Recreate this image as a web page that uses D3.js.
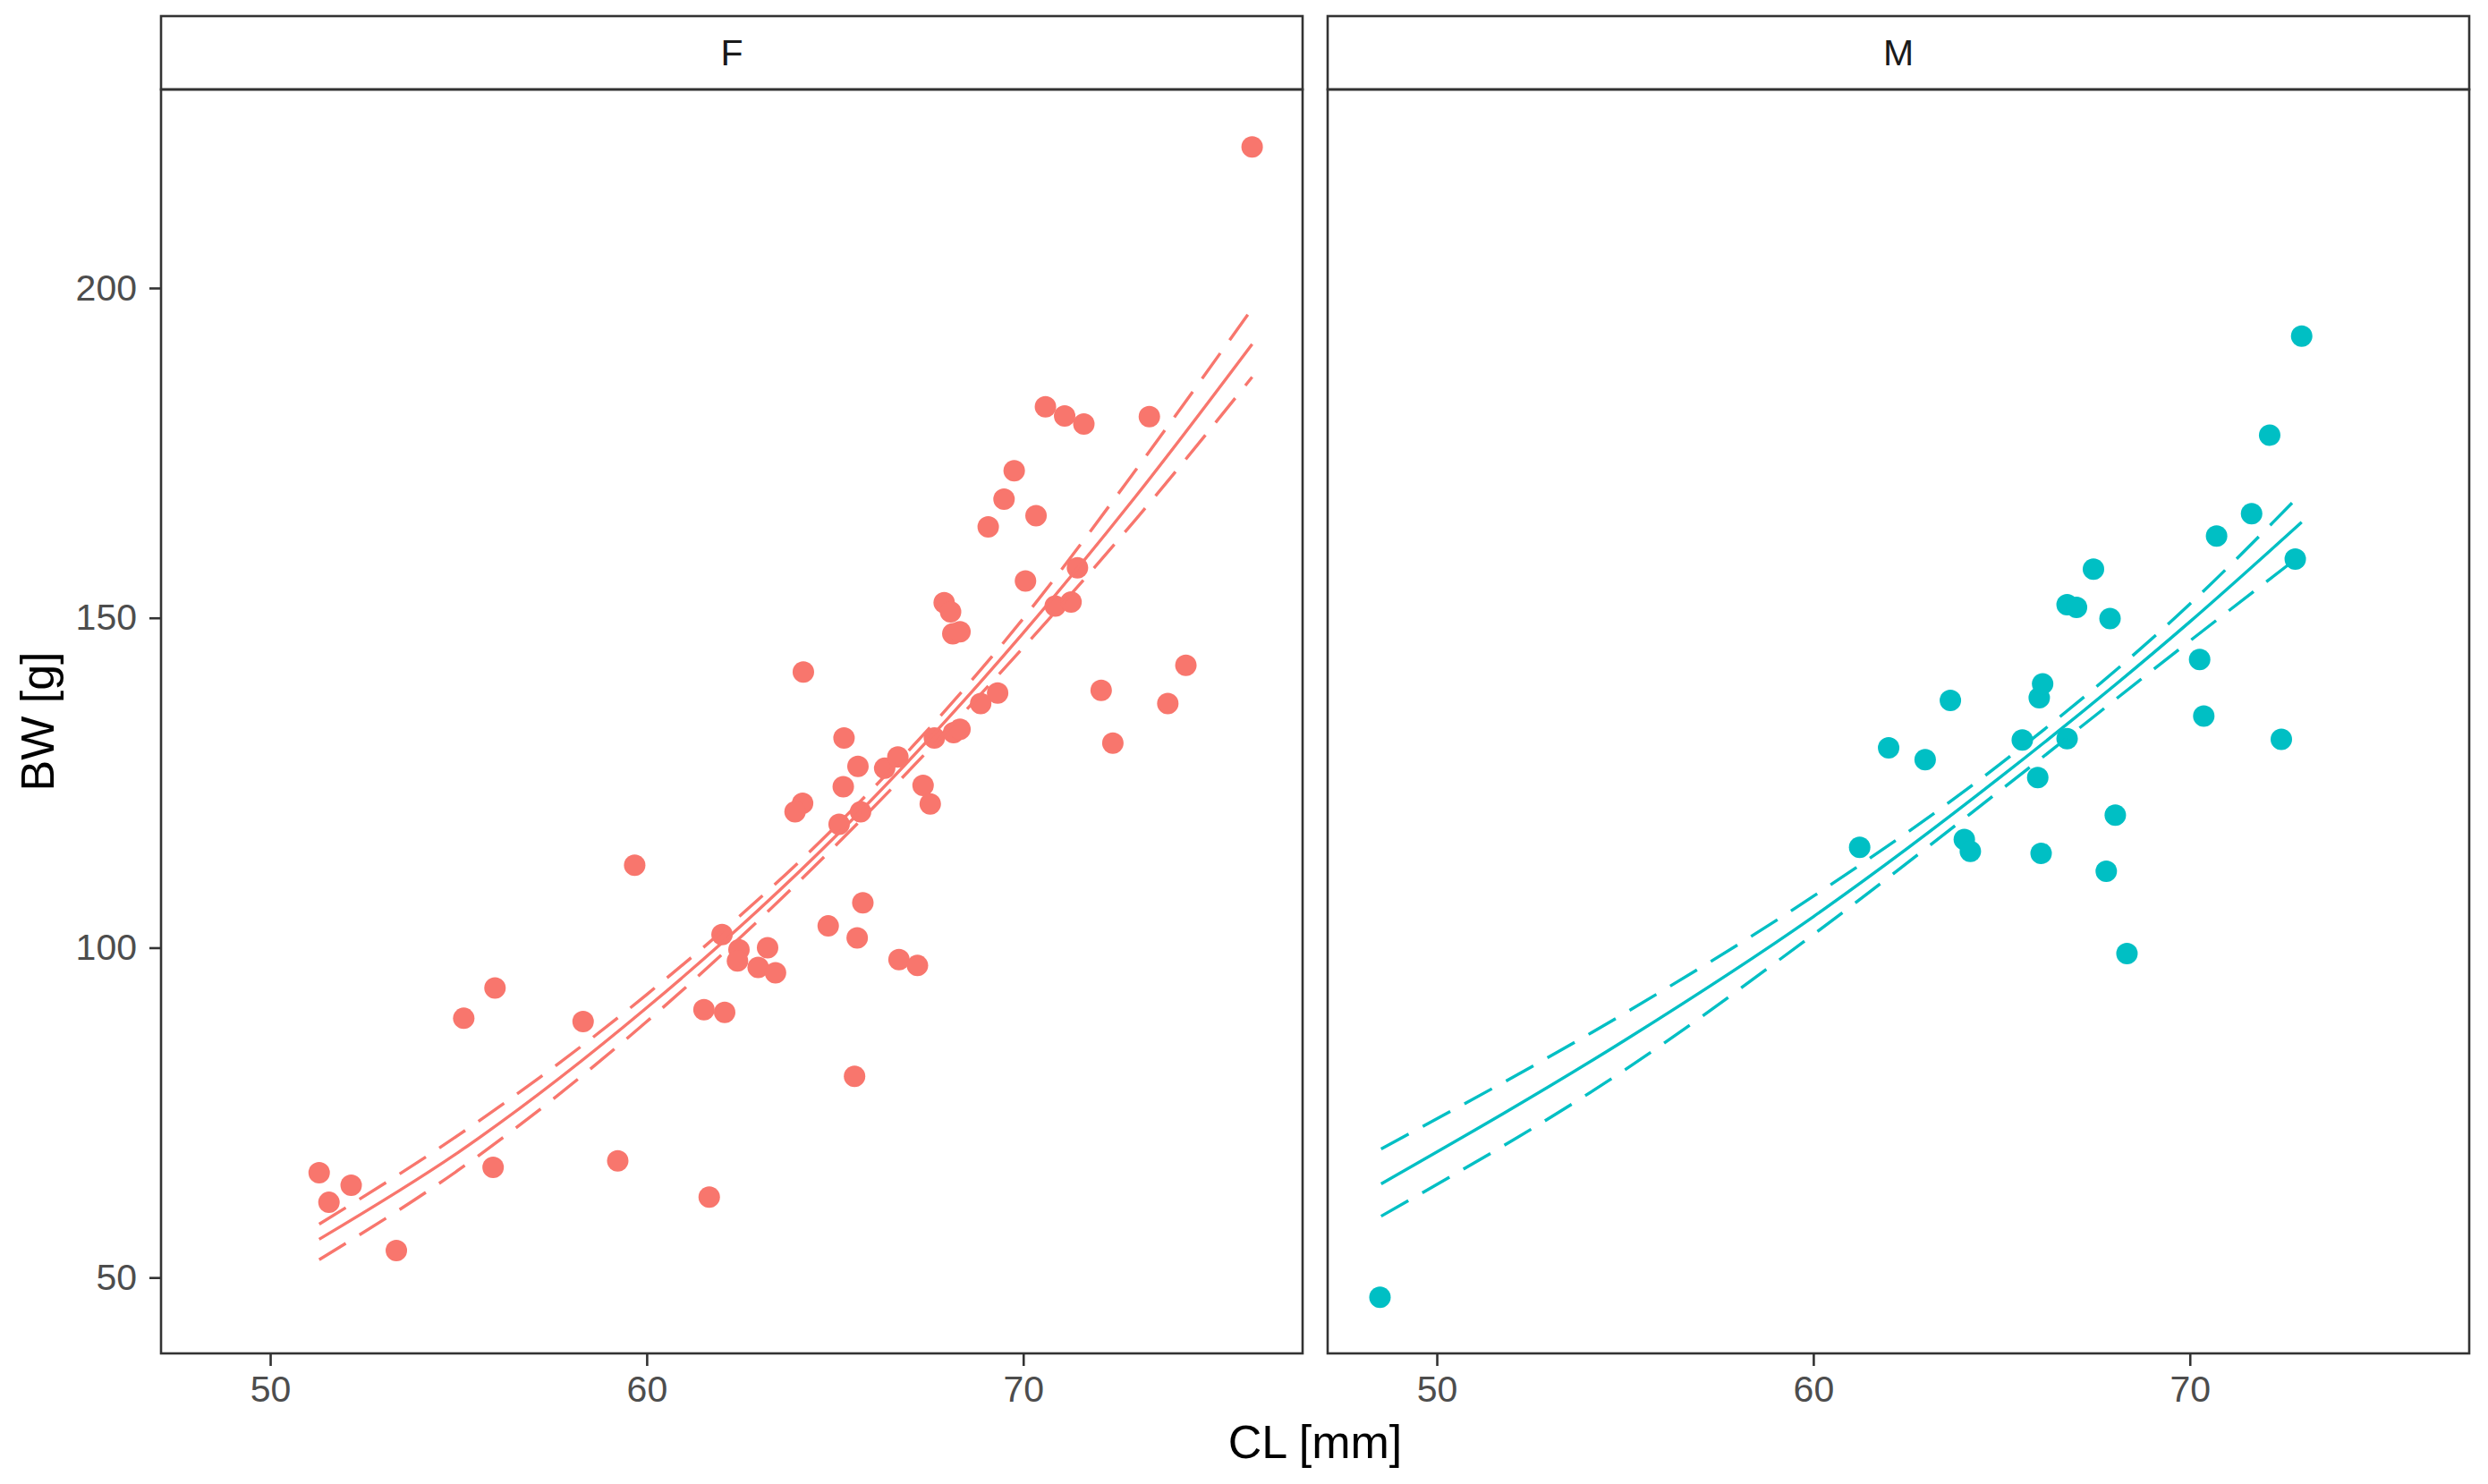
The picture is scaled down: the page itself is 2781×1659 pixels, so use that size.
<!DOCTYPE html>
<html>
<head>
<meta charset="utf-8">
<script src="https://cdn.jsdelivr.net/npm/d3@7/dist/d3.min.js"></script>
<style>
body { margin: 0; background: #ffffff; }
text { font-family: "Liberation Sans", Arial, Helvetica, sans-serif; }
</style>
</head>
<body>
<div id="chart"></div>
<script>
// facets and axis ticks
var panels = ["F", "M"];
var xTicks = [50, 60, 70];
var yTicks = [50, 100, 150, 200];

// observed points, females
var clF = [51.30, 51.56, 52.15, 53.35, 55.14, 55.97, 55.92, 58.31, 59.68, 59.23,
	61.66, 61.52, 62.07, 62.00, 62.45, 62.41, 63.21, 62.96, 63.42, 65.52,
	64.82, 65.59, 65.74, 64.16, 69.07, 69.49, 70.34, 70.06, 67.90, 68.07,
	68.13, 68.32, 71.44, 70.85, 71.27, 74.32, 72.07, 73.84, 72.38, 69.32,
	68.87, 67.64, 68.15, 68.32, 65.24, 65.61, 65.22, 66.32, 66.67, 64.14,
	63.94, 65.68, 65.11, 67.34, 67.53, 66.70, 67.19, 76.08, 70.59, 71.10,
	71.61, 73.35, 69.76];
var bwF = [65.9, 61.4, 64.0, 54.1, 89.3, 93.9, 66.7, 88.8, 112.5, 67.7,
	62.2, 90.6, 90.2, 102.0, 99.7, 98.0, 100.0, 97.0, 96.2, 80.5,
	103.3, 101.5, 106.8, 141.8, 163.8, 168.0, 165.5, 155.6, 152.3, 150.9,
	147.6, 147.9, 157.6, 151.8, 152.4, 142.8, 139.0, 137.0, 131.0, 138.6,
	137.0, 131.8, 132.6, 133.1, 131.8, 127.5, 124.4, 127.2, 128.9, 121.9,
	120.6, 120.6, 118.7, 124.6, 121.8, 98.2, 97.3, 221.4, 182.0, 180.6,
	179.4, 180.5, 172.3];

// observed points, males
var clM = [48.49, 61.23, 62.00, 62.97, 63.64, 64.01, 64.17, 65.55, 65.96, 66.00,
	66.09, 66.05, 66.74, 66.99, 66.74, 67.44, 67.88, 67.78, 68.02, 68.33,
	70.26, 70.37, 70.71, 71.64, 72.12, 72.43, 72.80, 72.97];
var bwM = [47.0, 115.2, 130.3, 128.5, 137.5, 116.4, 114.6, 131.5, 125.8, 137.9,
	140.0, 114.3, 152.0, 151.6, 131.7, 157.4, 149.9, 111.6, 120.1, 99.1,
	143.7, 135.1, 162.4, 165.8, 177.7, 131.6, 158.9, 192.7];

// fitted curve with lower / upper band, females
var fitClF = [51.3, 55, 60, 65, 70, 73, 76.08];
var fitF = [55.8, 69.0, 90.9, 116.8, 147.7, 168.5, 191.5];
var uprF = [58.1, 71.6, 92.9, 118.3, 149.9, 172.5, 196.9];
var lwrF = [52.7, 66.3, 88.8, 115.4, 145.5, 165.0, 186.5];

// fitted curve with lower / upper band, males
var fitClM = [48.52, 55, 60, 65, 70, 72.97];
var fitM = [64.2, 86.0, 104.7, 126.0, 149.4, 164.5];
var uprM = [69.5, 90.1, 107.8, 128.0, 152.1, 168.9];
var lwrM = [59.3, 81.5, 102.0, 124.0, 146.5, 159.6];

var colors = {F: "#F8766D", M: "#00BFC4"};

var points = {
	F: clF.map(function (d, i) { return [d, bwF[i]]; }),
	M: clM.map(function (d, i) { return [d, bwM[i]]; })
};
var fits = {
	F: [fitF, uprF, lwrF].map(function (s) { return fitClF.map(function (d, i) { return [d, s[i]]; }); }),
	M: [fitM, uprM, lwrM].map(function (s) { return fitClM.map(function (d, i) { return [d, s[i]]; }); })
};

var W = 2781, H = 1659;
var panelLeft = [180, 1484];
var panelW = 1276;
var panelTop = 100, stripTop = 18;
var panelH = 1413;

var svg = d3.select("#chart").append("svg")
	.attr("width", W)
	.attr("height", H);

var x = d3.scaleLinear()
	.domain([47.1, 77.42])
	.range([0, panelW]);

var y = d3.scaleLinear()
	.domain([38.5, 230.1])
	.range([panelH, 0]);

var line = d3.line()
	.x(function (d) { return x(d[0]); })
	.y(function (d) { return y(d[1]); })
	.curve(d3.curveMonotoneX);

svg.append("defs").append("clipPath").attr("id", "panel-clip")
	.append("rect")
	.attr("width", panelW)
	.attr("height", panelH);

panels.forEach(function (p, k) {
	var g = svg.append("g")
		.attr("transform", "translate(" + panelLeft[k] + "," + panelTop + ")");

	// strip
	g.append("rect")
		.attr("x", 0)
		.attr("y", stripTop - panelTop)
		.attr("width", panelW)
		.attr("height", panelTop - stripTop)
		.attr("fill", "#ffffff")
		.attr("stroke", "#333333")
		.attr("stroke-width", 2.6);

	g.append("text")
		.attr("x", panelW / 2)
		.attr("y", (stripTop - panelTop) / 2)
		.attr("text-anchor", "middle")
		.attr("dominant-baseline", "central")
		.attr("font-size", 41)
		.attr("fill", "#1a1a1a")
		.text(p);

	var inner = g.append("g").attr("clip-path", "url(#panel-clip)");

	inner.selectAll("circle")
		.data(points[p])
		.enter().append("circle")
		.attr("cx", function (d) { return x(d[0]); })
		.attr("cy", function (d) { return y(d[1]); })
		.attr("r", 12)
		.attr("fill", colors[p]);

	inner.selectAll("path.fit")
		.data(fits[p])
		.enter().append("path")
		.attr("class", "fit")
		.attr("d", line)
		.attr("fill", "none")
		.attr("stroke", colors[p])
		.attr("stroke-width", 3.4)
		.attr("stroke-dasharray", function (d, i) { return i == 0 ? null : "35,18"; });

	// x axis
	var xa = g.append("g")
		.attr("transform", "translate(0," + panelH + ")")
		.call(d3.axisBottom(x).tickValues(xTicks).tickSize(14).tickPadding(11));
	xa.select(".domain").remove();
	xa.selectAll("line").attr("stroke", "#333333").attr("stroke-width", 2.6);
	xa.selectAll("text").attr("font-size", 41).attr("fill", "#4d4d4d")
		.style("font-family", "\"Liberation Sans\", Arial, sans-serif");

	// y axis on the first panel only
	if (k == 0) {
		var ya = g.append("g")
			.call(d3.axisLeft(y).tickValues(yTicks).tickSize(13).tickPadding(14));
		ya.select(".domain").remove();
		ya.selectAll("line").attr("stroke", "#333333").attr("stroke-width", 2.6);
		ya.selectAll("text").attr("font-size", 41).attr("fill", "#4d4d4d")
			.style("font-family", "\"Liberation Sans\", Arial, sans-serif");
	}

	// panel border
	g.append("rect")
		.attr("width", panelW)
		.attr("height", panelH)
		.attr("fill", "none")
		.attr("stroke", "#333333")
		.attr("stroke-width", 2.6);
});

// axis titles
svg.append("text")
	.attr("x", (panelLeft[0] + panelLeft[1] + panelW) / 2)
	.attr("y", 1630)
	.attr("text-anchor", "middle")
	.attr("font-size", 52)
	.attr("fill", "#000000")
	.text("CL [mm]");

svg.append("text")
	.attr("transform", "translate(60," + (panelTop + panelH / 2) + ") rotate(-90)")
	.attr("text-anchor", "middle")
	.attr("font-size", 52)
	.attr("fill", "#000000")
	.text("BW [g]");
</script>
</body>
</html>
